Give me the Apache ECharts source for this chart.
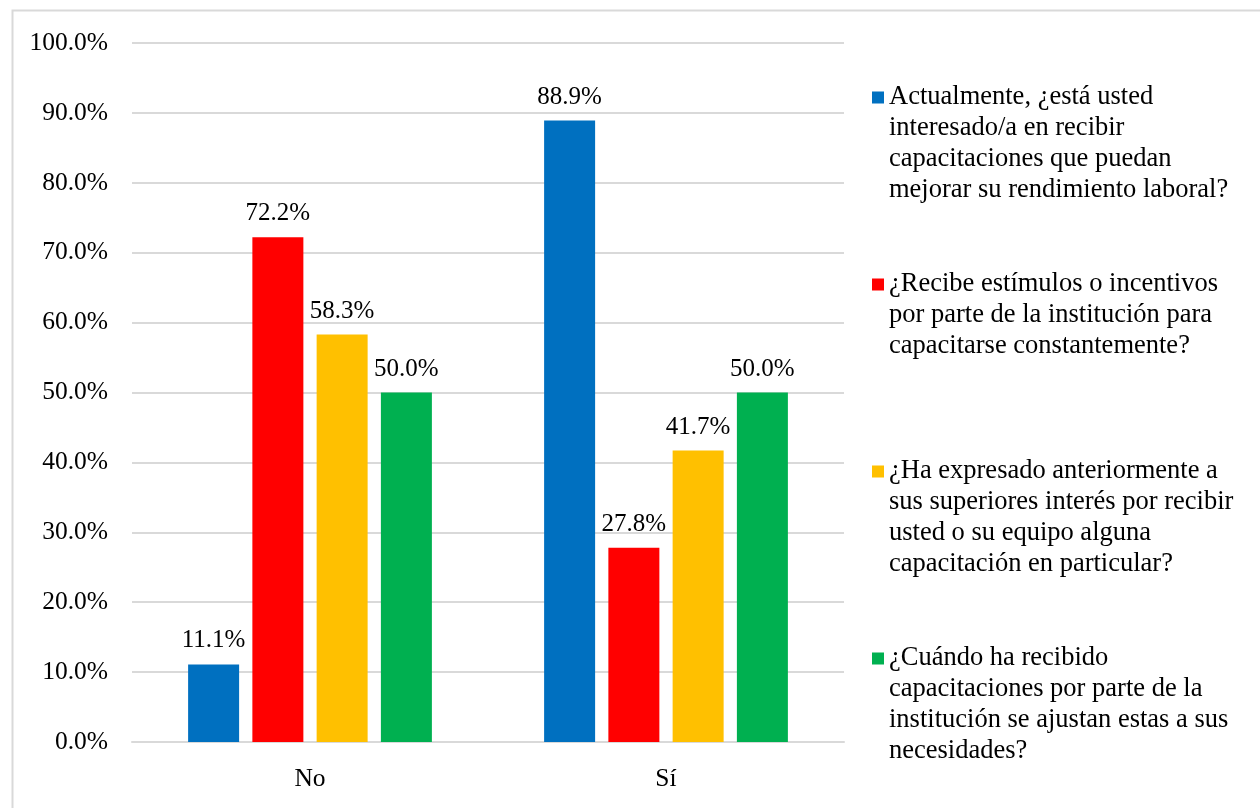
<!DOCTYPE html>
<html>
<head>
<meta charset="utf-8">
<script src="https://cdn.jsdelivr.net/npm/echarts@6/dist/echarts.min.js"></script>
<style>html,body{margin:0;padding:0;background:#fff}#c{width:1260px;height:808px}</style>
</head>
<body>
<div id="c"></div>
<script>
const categories = ['No', 'Sí'];
const seriesNames = [
  'Actualmente, ¿está usted\ninteresado/a en recibir\ncapacitaciones que puedan\nmejorar su rendimiento laboral?',
  '¿Recibe estímulos o incentivos\npor parte de la institución para\ncapacitarse constantemente?',
  '¿Ha expresado anteriormente a\nsus superiores interés por recibir\nusted o su equipo alguna\ncapacitación en particular?',
  '¿Cuándo ha recibido\ncapacitaciones por parte de la\ninstitución se ajustan estas a sus\nnecesidades?'
];
const colors = ['#0070C0', '#FF0000', '#FFC000', '#00B050'];
const valuesActualmente = [11.1, 88.9];
const valuesRecibe = [72.2, 27.8];
const valuesExpresado = [58.3, 41.7];
const valuesAjustan = [50.0, 50.0];
const allValues = [valuesActualmente, valuesRecibe, valuesExpresado, valuesAjustan];
const yTicks = {min: 0, max: 100, interval: 10};

const FONT = '"Liberation Serif", "Times New Roman", serif';
const LH = 31;
const ICON = 'path://M0,0L0.01,0M0,9.5h12v12h-12zM0,124L0.01,124';

const chart = echarts.init(document.getElementById('c'), null, {renderer: 'canvas'});
chart.setOption({
  animation: false,
  backgroundColor: '#fff',
  graphic: [{
    type: 'rect', left: 10, top: 8,
    shape: {width: 1300, height: 900},
    style: {fill: 'none', stroke: '#d9d9d9', lineWidth: 2}, silent: true, z: -1
  }],
  grid: {left: 132, right: 416, top: 43, bottom: 66, containLabel: false},
  legend: {
    orient: 'vertical', left: 872, top: 82, padding: 0,
    itemWidth: 12, itemHeight: 124, itemGap: 63,
    icon: ICON,
    formatter: n => {
      const k = n.split('\n').length;
      return k < 4 ? n + '\n '.repeat(4 - k) : n;
    },
    textStyle: {fontFamily: FONT, fontSize: 26.5, color: '#000', lineHeight: LH},
    data: seriesNames,
    selectedMode: false
  },
  xAxis: {
    type: 'category', data: categories,
    axisLine: {lineStyle: {color: '#d9d9d9', width: 2}},
    axisTick: {show: false},
    axisLabel: {fontFamily: FONT, fontSize: 25.5, color: '#000', margin: 24}
  },
  yAxis: {
    type: 'value', min: yTicks.min, max: yTicks.max, interval: yTicks.interval,
    axisLine: {show: false}, axisTick: {show: false},
    splitLine: {lineStyle: {color: '#d9d9d9', width: 2}},
    axisLabel: {fontFamily: FONT, fontSize: 25.5, color: '#000', margin: 24,
      formatter: v => v.toFixed(1) + '%'}
  },
  series: allValues.map((vals, i) => ({
    name: seriesNames[i], type: 'bar', data: vals,
    barWidth: 51, barGap: '26%',
    itemStyle: {color: colors[i]},
    label: {show: true, position: 'top', distance: 11, fontFamily: FONT, fontSize: 25, color: '#000',
      formatter: p => p.value.toFixed(1) + '%'}
  }))
});
</script>
</body>
</html>
